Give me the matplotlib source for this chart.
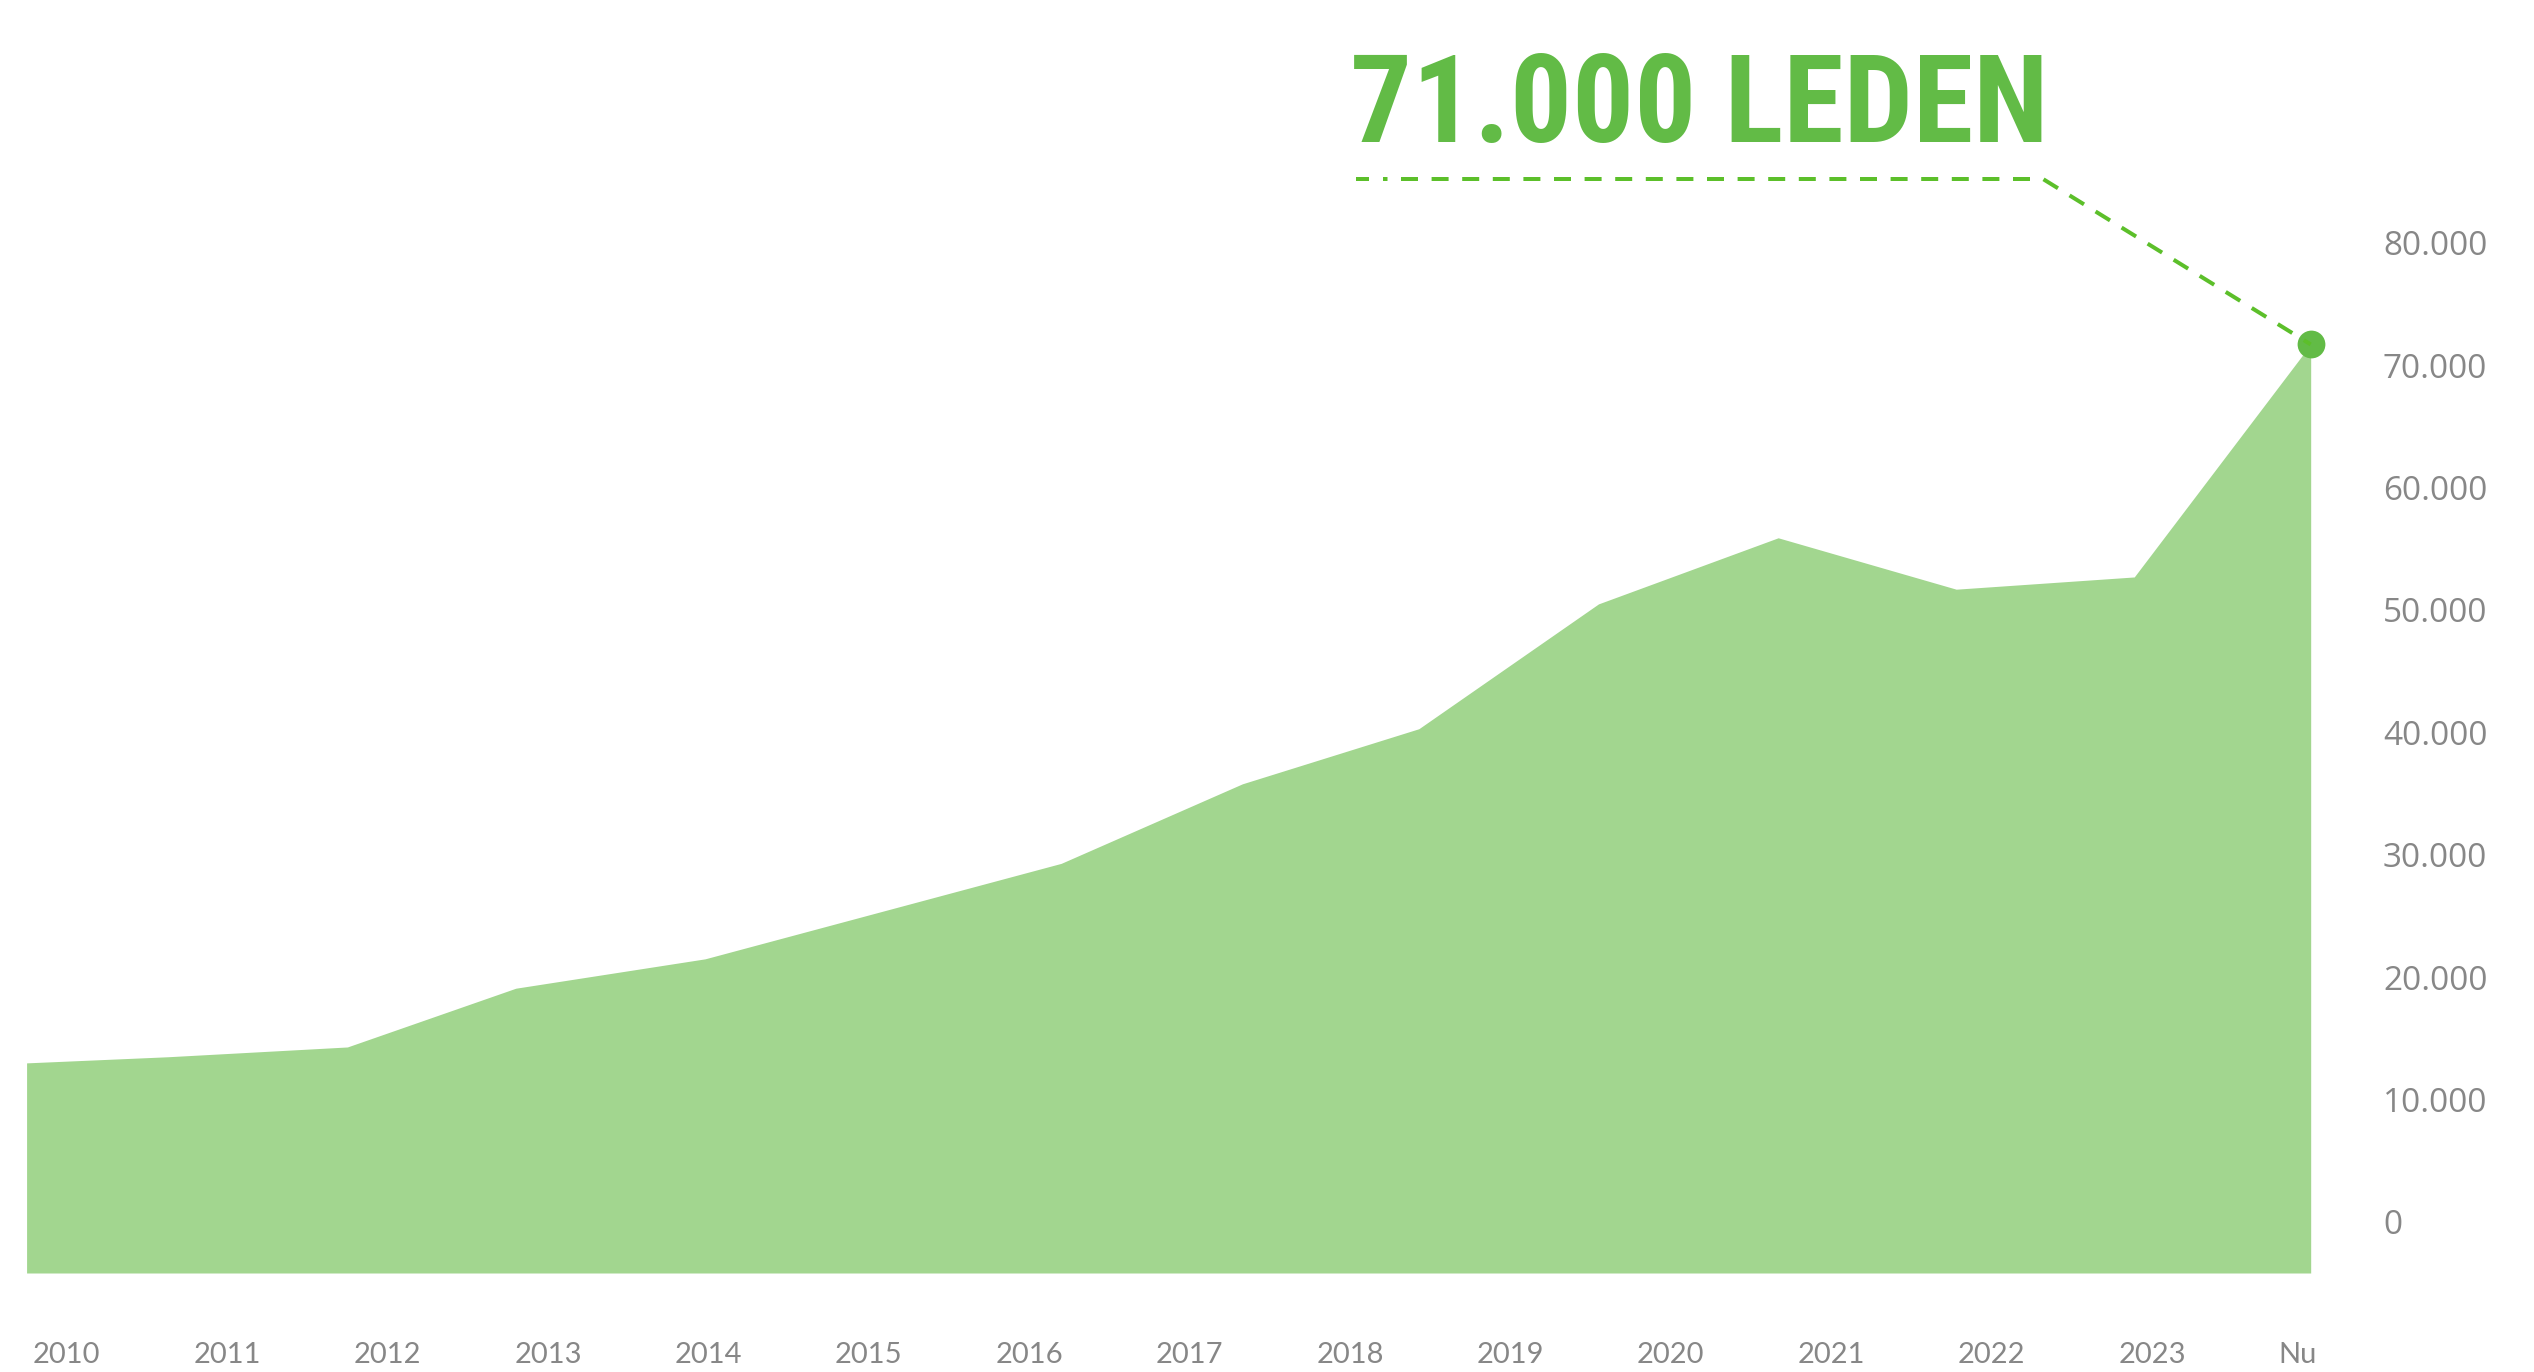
import matplotlib
matplotlib.use("Agg")
import matplotlib.pyplot as plt
from matplotlib import font_manager as fm
from matplotlib.font_manager import FontProperties
from matplotlib.lines import Line2D

# ---------------- data ----------------
years = ["2010", "2011", "2012", "2013", "2014", "2015", "2016", "2017",
         "2018", "2019", "2020", "2021", "2022", "2023", "Nu"]
# positions of the area vertices, in units of the category labels (label i at i)
member_x = [-0.04, 0.84, 1.96, 3.01, 4.19, 6.41, 7.54, 8.64, 9.76,
            10.88, 11.99, 13.10, 14.20]
members = [13000, 13500, 14300, 19100, 21500, 29300, 35800, 40300, 50500,
           55900, 51700, 52700, 71700]
y_ticks = [0, 10000, 20000, 30000, 40000, 50000, 60000, 70000, 80000]
y_tick_labels = ["0", "10.000", "20.000", "30.000", "40.000", "50.000",
                 "60.000", "70.000", "80.000"]
headline = "71.000 LEDEN"

# ---------------- style ----------------
W, H, DPI = 2534, 1372, 100
AREA = "#a2d68f"
DOT = "#62bb46"
DASH = "#5cbf2a"
GREY = "#878787"


def pick_title_font():
    wanted = ["Roboto Condensed", "Open Sans Condensed", "Liberation Sans Narrow"]
    names = {f.name for f in fm.fontManager.ttflist}
    for n in wanted:
        if n in names:
            return FontProperties(family=n, weight="bold")
    for f in fm.fontManager.ttflist:
        base = f.fname.replace("\\", "/").split("/")[-1].lower()
        if ("condensed" in base or "narrow" in base) and "bold" in base \
                and "oblique" not in base and "italic" not in base:
            return FontProperties(fname=f.fname)
    return FontProperties(family="DejaVu Sans", weight="bold")


title_fp = pick_title_font()

fig = plt.figure(figsize=(W / DPI, H / DPI), dpi=DPI)
fig.patch.set_facecolor("white")

# layout in pixels
ax_left_px, ax_right_px = 0, 2340
ax_bottom_px = 1273            # from top
x0_px, px_per_cat = 33, 160.4  # label 0 left edge, label spacing
y0_px, px_per_unit = 1222, 12.24 / 1000.0  # value 0 row, px per member

ax = fig.add_axes([ax_left_px / W, (H - ax_bottom_px) / H,
                   (ax_right_px - ax_left_px) / W, ax_bottom_px / H])
ax.set_xlim((ax_left_px - x0_px) / px_per_cat, (ax_right_px - x0_px) / px_per_cat)
ybot = (y0_px - ax_bottom_px) / px_per_unit
ytop = y0_px / px_per_unit
ax.set_ylim(ybot, ytop)
ax.set_facecolor("none")

ax.fill_between(member_x, members, ybot, color=AREA, lw=0, zorder=1)
ax.plot(member_x[-1], members[-1], "o", ms=20, color=DOT, mec="none",
        zorder=3, clip_on=False)

for s in ax.spines.values():
    s.set_visible(False)

ax.set_xticks(range(len(years)))
ax.set_xticklabels(years, ha="left", family="Lato", fontsize=21, color=GREY)
ax.tick_params(axis="x", length=0, pad=50)

ax.yaxis.tick_right()
ax.set_yticks(y_ticks)
ax.set_yticklabels(y_tick_labels, family="Open Sans", fontsize=24, color=GREY)
ax.tick_params(axis="y", length=0, pad=(2383 - ax_right_px) * 72 / DPI)

# headline: size chosen so it spans the leader line width without
# exceeding the reference cap height
title = fig.text(1350 / W, 1 - 142 / H, headline, fontproperties=title_fp,
                 fontsize=100, color=DOT, ha="left", va="baseline")
renderer = fig.canvas.get_renderer()
bb = title.get_window_extent(renderer)
size_w = 100 * 698 / bb.width
title.set_fontsize(min(size_w, 125))

# leader line towards the last point
dot_disp = ax.transData.transform((member_x[-1], members[-1]))
dot_fig = fig.transFigure.inverted().transform(dot_disp)
line_y = 1 - 179 / H
lw = 4 * 72 / DPI
start = Line2D([1356 / W, 1388 / W], [line_y, line_y], transform=fig.transFigure,
               color=DASH, lw=lw, dashes=(13 / 4, 14 / 4, 4.5 / 4, 60))
main = Line2D([1401 / W, 2043 / W, dot_fig[0]], [line_y, line_y, dot_fig[1]],
              transform=fig.transFigure, color=DASH, lw=lw,
              dashes=(17 / 4, 13.6 / 4), zorder=5)
fig.add_artist(start)
fig.add_artist(main)

fig.savefig("out.png", dpi=DPI, facecolor="white")
